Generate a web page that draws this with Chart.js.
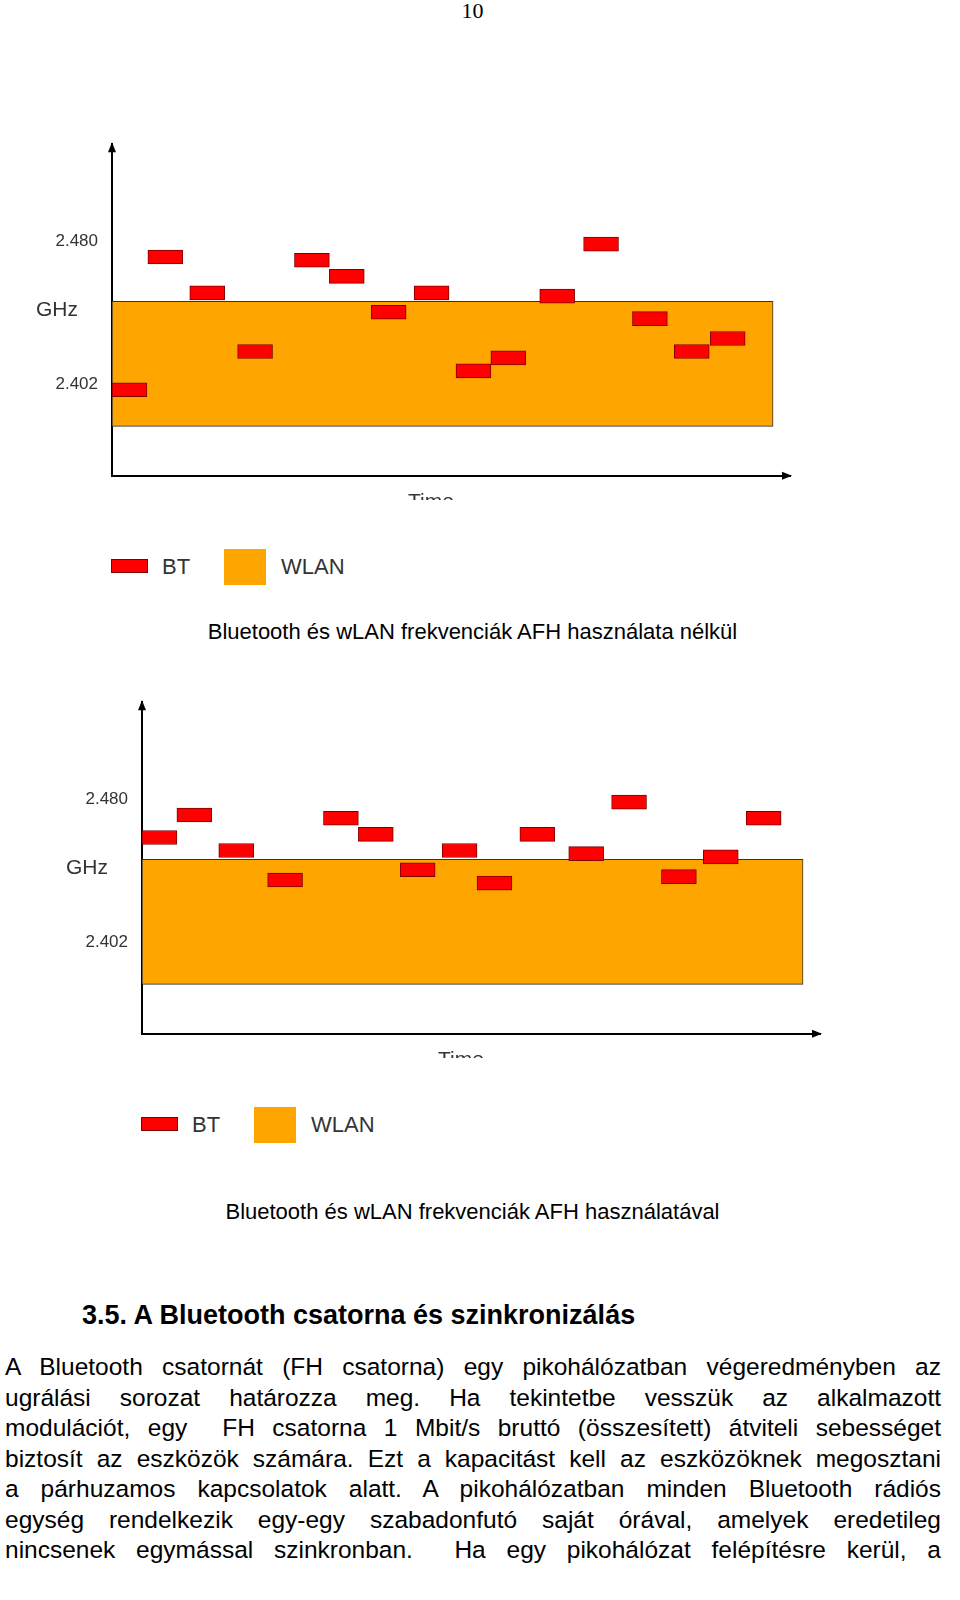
<!DOCTYPE html>
<html>
<head>
<meta charset="utf-8">
<script src="https://cdn.jsdelivr.net/npm/chart.js@4"></script>
<style>
  body { margin: 0; width: 960px; height: 1600px; background: #fff; position: relative; font-family: "Liberation Sans", Arial, sans-serif; }
  .abs { position: absolute; }
  .cv { position: absolute; }
  .pg { left: 0; width: 945px; top: -2px; text-align: center; font-family: "Liberation Serif", serif; font-size: 22px; }
  .cap { width: 945px; left: 0; text-align: center; font-size: 22px; }
  .bt { width: 35px; height: 12px; background: #ff0000; border: 1px solid #800000; }
  .wl { width: 42px; height: 36px; background: #ffa500; }
  .lg { font-size: 22px; color: #333; }
  .h { left: 82px; top: 1300px; font-size: 27px; font-weight: bold; }
  .ln { left: 5px; width: 936px; font-size: 24.5px; text-align: justify; text-align-last: justify; white-space: nowrap; }
</style>
</head>
<body>
<div class="abs pg">10</div>

<canvas id="c1" class="cv" width="820" height="380" style="left:0;top:120px"></canvas>
<canvas id="c2" class="cv" width="820" height="380" style="left:30px;top:678px"></canvas>

<div class="abs bt" style="left:111px;top:559px"></div>
<div class="abs lg" style="left:162px;top:554px">BT</div>
<div class="abs wl" style="left:224px;top:549px"></div>
<div class="abs lg" style="left:281px;top:554px">WLAN</div>
<div class="abs cap" style="top:619px">Bluetooth és wLAN frekvenciák AFH használata nélkül</div>

<div class="abs bt" style="left:141px;top:1117px"></div>
<div class="abs lg" style="left:192px;top:1112px">BT</div>
<div class="abs wl" style="left:254px;top:1107px"></div>
<div class="abs lg" style="left:311px;top:1112px">WLAN</div>
<div class="abs cap" style="top:1199px">Bluetooth és wLAN frekvenciák AFH használatával</div>

<div class="abs h">3.5. A Bluetooth csatorna és szinkronizálás</div>
<div class="abs ln" style="top:1353px">A Bluetooth csatornát (FH csatorna) egy pikohálózatban végeredményben az</div>
<div class="abs ln" style="top:1384px">ugrálási sorozat határozza meg. Ha tekintetbe vesszük az alkalmazott</div>
<div class="abs ln" style="top:1414px">modulációt, egy &nbsp;FH csatorna 1 Mbit/s bruttó (összesített) átviteli sebességet</div>
<div class="abs ln" style="top:1445px">biztosít az eszközök számára. Ezt a kapacitást kell az eszközöknek megosztani</div>
<div class="abs ln" style="top:1475px">a párhuzamos kapcsolatok alatt. A pikohálózatban minden Bluetooth rádiós</div>
<div class="abs ln" style="top:1506px">egység rendelkezik egy-egy szabadonfutó saját órával, amelyek eredetileg</div>
<div class="abs ln" style="top:1536px">nincsenek egymással szinkronban. &nbsp;Ha egy pikohálózat felépítésre kerül, a</div>

<script>
// time slots (start of each BT hop) and hop frequencies in GHz
const hopStarts1 = [0, 3.6, 7.8, 12.6, 18.3, 21.8, 26.0, 30.3, 34.5, 38.0, 42.9, 47.3, 52.2, 56.4, 60.0];
const hopFreqs1 = [2.3992, 2.4717, 2.4521, 2.4201, 2.4699, 2.4611, 2.4415, 2.4521, 2.4095, 2.4166, 2.4503, 2.4787, 2.4380, 2.4201, 2.4272];
const hopStarts2 = [0, 3.5, 7.7, 12.6, 18.2, 21.7, 25.9, 30.1, 33.6, 37.9, 42.8, 47.1, 52.1, 56.3, 60.6];
const hopFreqs2 = [2.4594, 2.4717, 2.4523, 2.4362, 2.4699, 2.4611, 2.4418, 2.4523, 2.4345, 2.4611, 2.4506, 2.4787, 2.4380, 2.4488, 2.4699];
const hopLength = 3.5;
const wlanSpan = [0, 66.3];
const wlanCenter = 2.4133;
const freqTicks = [2.402, 2.480];

const axisArrows = {
  id: 'axisArrows',
  afterDraw(chart) {
    const { ctx, chartArea: a } = chart;
    ctx.save();
    ctx.fillStyle = '#000';
    ctx.beginPath();
    ctx.moveTo(a.left - 4, a.top + 8); ctx.lineTo(a.left + 4, a.top + 8); ctx.lineTo(a.left, a.top - 2);
    ctx.fill();
    ctx.beginPath();
    ctx.moveTo(a.right - 8, a.bottom - 4); ctx.lineTo(a.right - 8, a.bottom + 4); ctx.lineTo(a.right + 2, a.bottom);
    ctx.fill();
    ctx.fillStyle = '#333';
    ctx.font = '21px "Liberation Sans", Arial';
    ctx.textAlign = 'left';
    ctx.textBaseline = 'middle';
    ctx.fillText('GHz', 36, a.top + 166);
    ctx.fillText('Time', 408, a.bottom + 26);
    ctx.restore();
  }
};

function makeChart(id, starts, freqs) {
  new Chart(document.getElementById(id), {
    type: 'bar',
    data: {
      datasets: [
        {
          label: 'BT',
          data: starts.map((s, i) => ({ x: [s, s + hopLength], y: freqs[i] })),
          backgroundColor: '#ff0000',
          borderColor: '#800000',
          borderWidth: 1,
          borderSkipped: false,
          barThickness: 14,
          order: 0,
        },
        {
          label: 'WLAN',
          data: [{ x: wlanSpan, y: wlanCenter }],
          backgroundColor: '#ffa500',
          borderColor: '#333',
          borderWidth: 1,
          borderSkipped: false,
          barThickness: 125,
          order: 1,
        },
      ],
    },
    options: {
      indexAxis: 'y',
      responsive: false,
      devicePixelRatio: 1,
      animation: false,
      layout: { padding: { top: 20, right: 30, left: 0, bottom: 0 } },
      plugins: { legend: { display: false }, tooltip: { enabled: false } },
      datasets: { bar: { grouped: false } },
      scales: {
        y: {
          type: 'linear',
          min: 2.3975,
          max: 2.488,
          afterBuildTicks: (s) => { s.ticks = freqTicks.map((v) => ({ value: v })); },
          afterFit: (s) => { s.width = 112; },
          grid: { display: false, drawTicks: false },
          border: { color: '#000', width: 2 },
          ticks: { color: '#333', font: { size: 17, family: 'Liberation Sans' }, padding: 14, callback: (v) => v.toFixed(3) },
        },
        x: {
          type: 'linear',
          min: 0,
          max: 68,
          afterFit: (s) => { s.height = 0; },
          grid: { display: false, drawTicks: false },
          border: { color: '#000', width: 2 },
          ticks: { display: false },
        },
      },
    },
    plugins: [axisArrows],
  });
}

makeChart('c1', hopStarts1, hopFreqs1);
makeChart('c2', hopStarts2, hopFreqs2);
</script>
</body>
</html>
